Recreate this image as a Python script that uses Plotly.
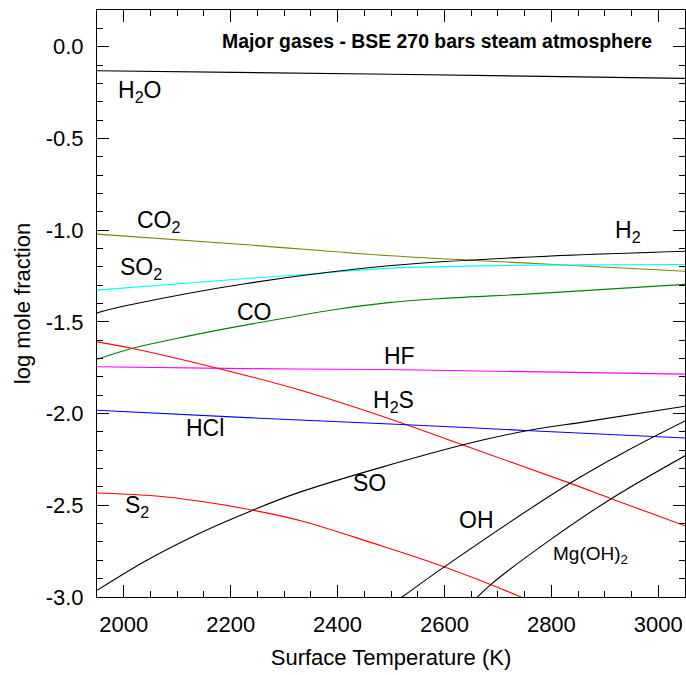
import plotly.graph_objects as go

FONT = "Liberation Sans, Arial, sans-serif"

# ---- data (temperature in K, log mole fraction) ----
h2o_T = [1950, 2500, 3050]
h2o_y = [-0.131, -0.150, -0.173]

co2_T = [1950, 2230, 2500, 2770, 3050]
co2_y = [-1.022, -1.080, -1.140, -1.182, -1.224]

so2_T = [1950, 2230, 2370, 2500, 2640, 2770, 3050]
so2_y = [-1.327, -1.264, -1.235, -1.207, -1.196, -1.191, -1.187]

h2_T = [1950, 2008, 2230, 2500, 2770, 3050]
h2_y = [-1.451, -1.410, -1.291, -1.193, -1.145, -1.115]

co_T = [1950, 2015, 2120, 2227, 2400, 2500, 2600, 2770, 3050]
co_y = [-1.704, -1.645, -1.578, -1.518, -1.431, -1.394, -1.372, -1.346, -1.296]

hf_T = [1950, 2230, 2490, 3050]
hf_y = [-1.745, -1.755, -1.760, -1.785]

h2s_T = [1950, 2017, 2177, 2331, 2509, 2636, 2837, 2912, 3050]
h2s_y = [-1.609, -1.645, -1.754, -1.873, -2.040, -2.173, -2.382, -2.464, -2.612]

hcl_T = [1950, 2230, 2509, 2771, 3050]
hcl_y = [-1.982, -2.022, -2.058, -2.095, -2.133]

so_T = [1950, 2040, 2143, 2237, 2331, 2637, 2759, 2865, 3050]
so_y = [-2.964, -2.805, -2.651, -2.532, -2.427, -2.169, -2.091, -2.044, -1.960]

s2_T = [1950, 2049, 2143, 2237, 2331, 2465, 2599, 2743, 2780]
s2_y = [-2.433, -2.447, -2.478, -2.524, -2.584, -2.705, -2.835, -3.000, -3.050]

oh_T = [2505, 2599, 2837, 2940, 3050]
oh_y = [-3.034, -2.837, -2.376, -2.205, -2.040]

mgoh2_T = [2655, 2687, 2799, 2912, 3050]
mgoh2_y = [-3.020, -2.931, -2.686, -2.464, -2.230]

series = [
    (h2o_T, h2o_y, "black"),
    (co2_T, co2_y, "#808000"),
    (so2_T, so2_y, "#00FFFF"),
    (h2_T, h2_y, "black"),
    (co_T, co_y, "#008000"),
    (hf_T, hf_y, "#FF00FF"),
    (h2s_T, h2s_y, "#FF0000"),
    (hcl_T, hcl_y, "#0000FF"),
    (so_T, so_y, "black"),
    (s2_T, s2_y, "#FF0000"),
    (oh_T, oh_y, "black"),
    (mgoh2_T, mgoh2_y, "black"),
]

# labels: text, left x (K), y
label_text = ["H<sub>2</sub>O", "CO<sub>2</sub>", "SO<sub>2</sub>", "CO", "H<sub>2</sub>",
              "HF", "H<sub>2</sub>S", "HCl", "SO", "S<sub>2</sub>", "OH", "Mg(OH)<sub>2</sub>"]
label_x = [1986, 2022, 1990, 2208, 2916, 2484, 2463, 2112, 2426, 1999, 2623, 2799]
label_y = [-0.242, -0.951, -1.207, -1.445, -1.006, -1.687, -1.933, -2.080, -2.380, -2.506, -2.582, -2.773]
label_size = [23, 23, 23, 23, 23, 23, 23, 23, 23, 23, 23, 19]

y_tickvals = [0.0, -0.5, -1.0, -1.5, -2.0, -2.5, -3.0]
y_ticktext = ["0.0", "-0.5", "-1.0", "-1.5", "-2.0", "-2.5", "-3.0"]
x_tickvals = [2000, 2200, 2400, 2600, 2800, 3000]

title_text = "Major gases - BSE 270 bars steam atmosphere"

fig = go.Figure()
for T, y, c in series:
    fig.add_trace(go.Scatter(x=T, y=y, mode="lines", line=dict(color=c, width=1.1, shape="spline", smoothing=1.0),
                             showlegend=False, hoverinfo="skip"))

for t, x, y, s in zip(label_text, label_x, label_y, label_size):
    fig.add_annotation(x=x, y=y, text=t, showarrow=False, xanchor="left", yanchor="middle",
                       font=dict(family=FONT, size=s, color="black"))

fig.add_annotation(x=2992, y=0.032, text="<b>" + title_text + "</b>", showarrow=False,
                   xanchor="right", yanchor="middle", font=dict(family=FONT, size=19.4, color="black"))

fig.update_layout(
    width=686, height=675,
    margin=dict(l=97, r=1, t=10, b=78, autoexpand=False),
    paper_bgcolor="white", plot_bgcolor="white",
    font=dict(family=FONT, size=22, color="black"),
)
fig.update_xaxes(
    range=[1950, 3050], tickvals=x_tickvals, ticks="inside", ticklen=12, tickwidth=1,
    tickcolor="black", showline=True, linecolor="black", linewidth=1, mirror="allticks",
    showgrid=False, zeroline=False, ticklabelstandoff=8,
    minor=dict(dtick=50, tick0=1950, ticks="inside", ticklen=6, tickcolor="black", showgrid=False),
    title=dict(text="Surface Temperature (K)", font=dict(size=22), standoff=13),
    tickfont=dict(size=22),
)
fig.update_yaxes(
    range=[-3.0, 0.2], tickvals=y_tickvals, ticktext=y_ticktext, ticks="inside", ticklen=12,
    tickwidth=1, tickcolor="black", showline=True, linecolor="black", linewidth=1,
    mirror="allticks", showgrid=False, zeroline=False, ticklabelstandoff=8,
    minor=dict(dtick=0.1, tick0=0, ticks="inside", ticklen=6, tickcolor="black", showgrid=False),
    title=dict(text="log mole fraction", font=dict(size=22), standoff=8),
    tickfont=dict(size=22),
)

fig.write_html("out.html", config={"displayModeBar": False},
               post_script="document.body.style.margin='0';document.body.style.overflow='hidden';")
